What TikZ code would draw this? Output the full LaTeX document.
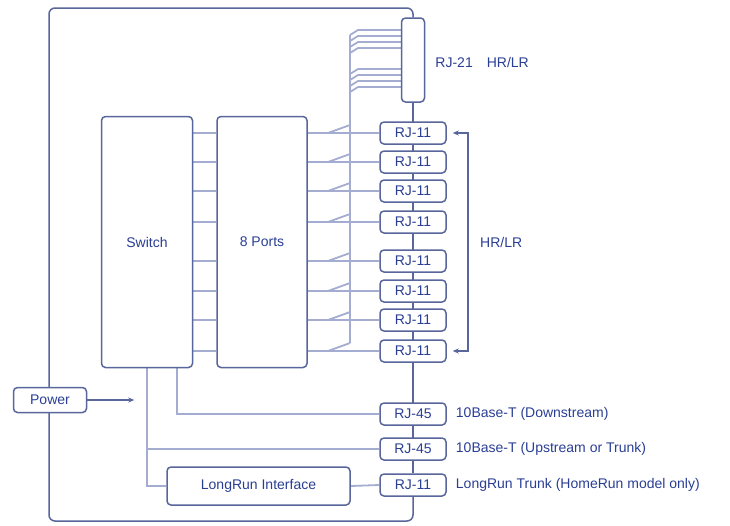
\documentclass[tikz,border=0pt]{standalone}
\usepackage{fontspec}
\setmainfont{Liberation Sans}
\usetikzlibrary{calc,arrows.meta,backgrounds}
\definecolor{dk}{RGB}{88,102,156}
\definecolor{lt}{RGB}{165,172,210}
\definecolor{tx}{RGB}{42,62,148}
\begin{document}
\begin{tikzpicture}[x=1pt,y=-1pt,
  dark/.style={draw=dk,line width=1.5pt},
  light/.style={draw=lt,line width=1.8pt},
  box/.style={dark,fill=white,rounded corners=4pt,inner sep=0pt,text=tx,
    font=\fontsize{14}{16}\selectfont},
  rjbox/.style={box,minimum width=66pt,minimum height=22pt},
  lab/.style={text=tx,font=\fontsize{14}{16}\selectfont,inner sep=0pt,anchor=west}]
\useasboundingbox (0,0) rectangle (730,525);
% main blocks
\node[box,minimum width=91pt,minimum height=251pt] (sw) at (147,242) {Switch};
\node[box,minimum width=90pt,minimum height=251pt] (pt) at (262,242) {8 Ports};
\node[box,minimum width=23pt,minimum height=84pt] (rj21) at (413,60) {};
\foreach \i/\y in {1/133,2/162,3/191,4/222,5/261,6/291,7/320,8/351}
  \node[rjbox] (r\i) at (413,\y) {RJ-11};
\node[rjbox] (e1) at (413,414) {RJ-45};
\node[rjbox] (e2) at (413,449) {RJ-45};
\node[rjbox] (l1) at (413,485) {RJ-11};
\node[box,minimum width=73pt,minimum height=25pt] (pw) at (50,400) {Power};
\node[box,minimum width=183pt,minimum height=38pt] (lr) at (258.5,486) {LongRun Interface};
% corner coordinates
\coordinate (tl) at (49,8);
\coordinate (bl) at (49,521);
\coordinate (tr) at (rj21.north |- tl);
\coordinate (br) at (rj21.north |- bl);
\coordinate (bus) at (350,0);
\coordinate (bk) at (468,0);
\begin{scope}[on background layer]
  \draw[dark,rounded corners=6pt] (rj21.north) -- (tr) -- (tl) -- (bl) -- (br) -- (l1.south);
  \draw[dark] (rj21.south) -- (l1.north);
  % ladder and port lines
  \foreach \i in {1,...,8}{
    \draw[light] (sw.east |- r\i) -- (pt.west |- r\i);
    \draw[light] (pt.east |- r\i) -- (r\i.west);
    \draw[light] ($(bus |- r\i)+(-22,0)$) -- ($(bus |- r\i)+(0,-8)$);
  }
  % bus to RJ-21
  \draw[light] ($(bus)+(0,35)$) -- ($(bus |- r8)+(0,-8)$);
  \foreach \y in {30,36,42,48,69,75,81,87}
    \draw[light] ($(bus)+(0,\y+5)$) -- ($(bus)+(8,\y)$) -- (rj21.west |- {$(bus)+(0,\y)$});
  % switch outputs
  \draw[light] ($(sw.south)+(30,0)$) |- (e1.west);
  \draw[light] (sw.south) |- (e2.west);
  \draw[light] (sw.south) |- (lr.west);
  \draw[light] (lr.east) -- (l1.west);
\end{scope}
% power arrow
\draw[dark,-{Stealth[length=6pt,width=5pt]}] (pw.east) -- ++(47,0) coordinate (pa);
% HR/LR bracket
\draw[dark,{Stealth[length=6pt,width=5pt]}-{Stealth[length=6pt,width=5pt]}]
  ($(r1.east)+(6,0)$) -- (bk |- r1) -- (bk |- r8) -- ($(r8.east)+(6,0)$);
% labels
\node[lab] (t21) at ($(rj21.east)+(10,2)$) {RJ-21\quad HR/LR};
\node[lab] (thr) at (480,242) {HR/LR};
\node[lab] (td) at ($(e1.east)+(9,0)$) {10Base-T (Downstream)};
\node[lab] (tu) at ($(e2.east)+(9,0)$) {10Base-T (Upstream or Trunk)};
\node[lab] (tl1) at ($(l1.east)+(9,0)$) {LongRun Trunk (HomeRun model only)};
\end{tikzpicture}
\end{document}
